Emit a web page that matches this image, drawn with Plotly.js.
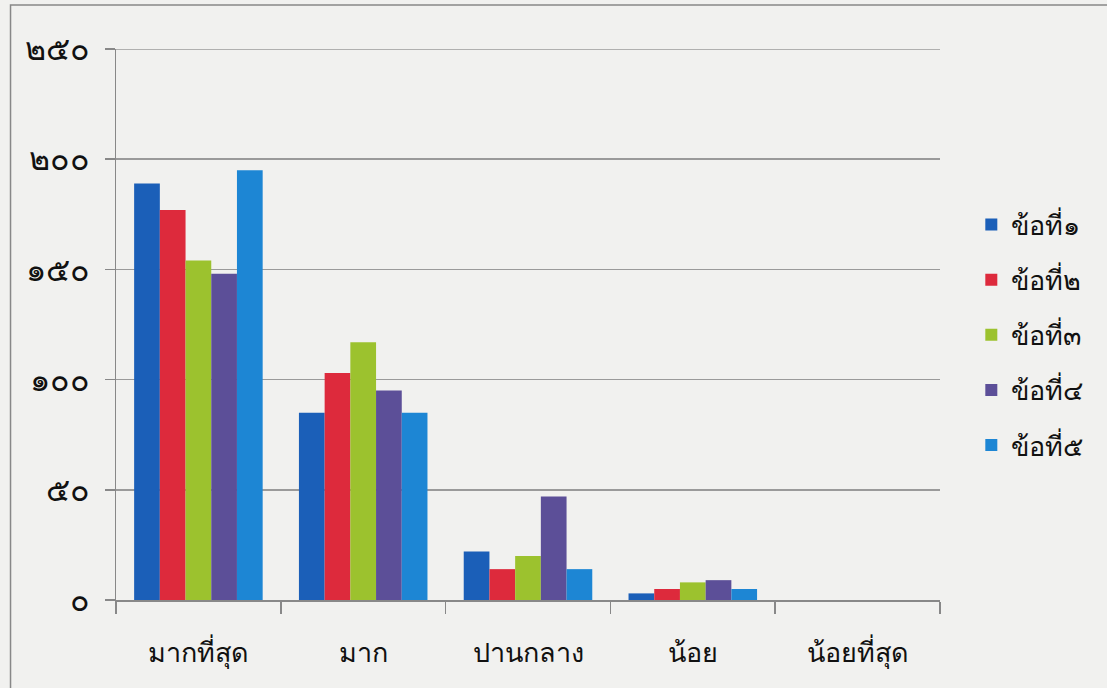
<!DOCTYPE html>
<html>
<head>
<meta charset="utf-8">
<script src="https://cdn.plot.ly/plotly-3.0.1.min.js"></script>
<style>html,body{margin:0;padding:0;background:#f1f1ef;}#chart{width:1107px;height:688px;}</style>
</head>
<body>
<div id="chart"></div>
<script>
const categories = ['มากที่สุด', 'มาก', 'ปานกลาง', 'น้อย', 'น้อยที่สุด'];
const seriesNames = ['ข้อที่๑', 'ข้อที่๒', 'ข้อที่๓', 'ข้อที่๔', 'ข้อที่๕'];
const item1 = [189, 85, 22, 3, 0];
const item2 = [177, 103, 14, 5, 0];
const item3 = [154, 117, 20, 8, 0];
const item4 = [148, 95, 47, 9, 0];
const item5 = [195, 85, 14, 5, 0];
const yTickVals = [0, 50, 100, 150, 200, 250];
const yTickText = ['๐', '๕๐', '๑๐๐', '๑๕๐', '๒๐๐', '๒๕๐'];
const colors = ['#1b5fb8', '#dd2a3c', '#9cc22e', '#5c4f98', '#1d86d4'];

const allSeries = [item1, item2, item3, item4, item5];
const traces = allSeries.map((vals, i) => ({
  type: 'bar',
  name: seriesNames[i],
  x: categories,
  y: vals,
  legendgroup: 'g' + i,
  marker: {color: colors[i], line: {width: 0}}
}));

const layout = {
  width: 1107, height: 688,
  paper_bgcolor: '#f1f1ef',
  plot_bgcolor: '#f1f1ef',
  margin: {l: 116, r: 167, t: 49, b: 88},
  barmode: 'group',
  bargap: 0.22,
  bargroupgap: 0,
  showlegend: true,
  legend: {
    x: 1.038, y: 0.725, xanchor: 'left', yanchor: 'top',
    font: {family: 'Noto Sans, Tahoma, sans-serif', size: 27, color: '#111'},
    traceorder: 'grouped',
    tracegroupgap: 17,
    bgcolor: 'rgba(0,0,0,0)',
    itemwidth: 30
  },
  xaxis: {
    type: 'category',
    showline: true, linecolor: '#888', linewidth: 1.5,
    ticks: 'outside', tickson: 'boundaries', ticklen: 12, tickcolor: '#888', tickwidth: 1.5,
    tickfont: {family: 'Noto Sans, sans-serif', size: 27, color: '#111'},
    ticklabelstandoff: 28,
    showgrid: false
  },
  yaxis: {
    range: [0, 250],
    tickvals: yTickVals, ticktext: yTickText,
    showline: true, linecolor: '#888', linewidth: 1.5,
    ticks: 'outside', ticklen: 10, tickcolor: '#888', tickwidth: 1.5,
    showgrid: true, gridcolor: '#9a9a9a', gridwidth: 1.5,
    zeroline: false,
    tickfont: {family: 'Noto Sans, sans-serif', size: 32, color: '#111'},
    ticklabelstandoff: 8
  },
  shapes: [{
    type: 'rect', xref: 'paper', yref: 'paper',
    x0: -0.128, x1: 1.21, y0: -0.2, y1: 1.08,
    line: {color: '#888', width: 1.5}, fillcolor: 'rgba(0,0,0,0)', layer: 'below'
  }, {
    type: 'line', xref: 'paper', yref: 'y',
    x0: -0.012, x1: 1, y0: 250, y1: 250,
    line: {color: '#9a9a9a', width: 1.5}, layer: 'below'
  }]
};

Plotly.newPlot('chart', traces, layout, {displayModeBar: false, staticPlot: true});
</script>
</body>
</html>
